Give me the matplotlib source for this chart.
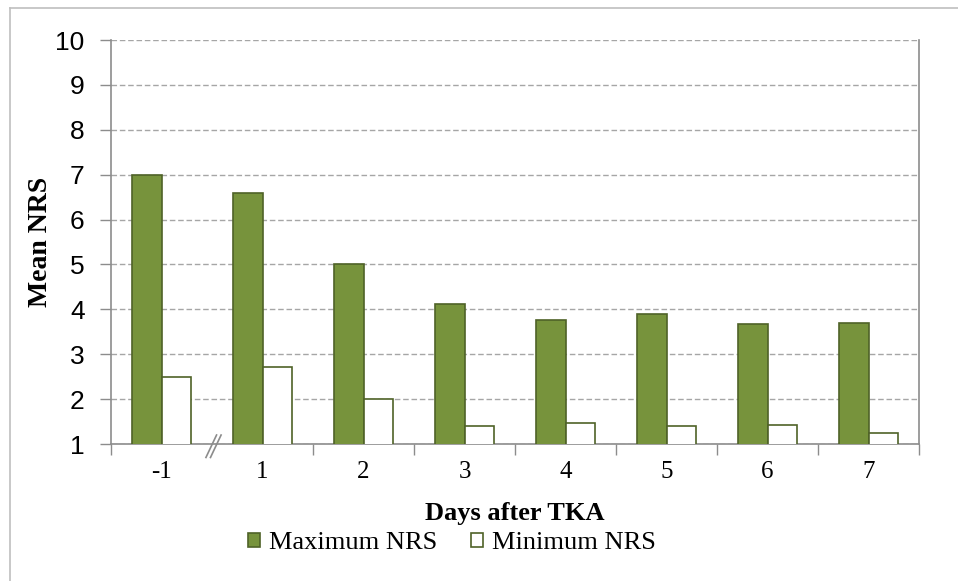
import numpy as np
import matplotlib
matplotlib.use("Agg")
import matplotlib.pyplot as plt
from matplotlib.lines import Line2D

# Mean pain scores per day after surgery
days = ["-1", "1", "2", "3", "4", "5", "6", "7"]
max_nrs = [7.0, 6.6, 5.0, 4.12, 3.76, 3.89, 3.68, 3.70]
min_nrs = [2.5, 2.72, 2.0, 1.40, 1.46, 1.40, 1.42, 1.25]
y_ticks = [1, 2, 3, 4, 5, 6, 7, 8, 9, 10]

green = "#77933C"
edge = "#4F6228"
grey = "#8C8C8C"

fig = plt.figure(figsize=(9.58, 5.81), dpi=100)
ax = fig.add_axes([111 / 958, 1 - 444 / 581, 808 / 958, 404 / 581])

x = np.arange(len(days))
w = 0.29
ax.bar(x - w / 2, max_nrs, width=w, bottom=0, color=green, edgecolor=edge,
       linewidth=1.2, label="Maximum NRS", zorder=3)
ax.bar(x + w / 2, min_nrs, width=w, bottom=0, color="white", edgecolor=edge,
       linewidth=1.2, label="Minimum NRS", zorder=3)

ax.set_xlim(-0.5, len(days) - 0.5)
ax.set_ylim(1, 10)
ax.set_yticks(y_ticks)
ax.set_yticklabels([str(t) for t in y_ticks], fontfamily="Liberation Sans", fontsize=19)
ax.yaxis.grid(True, linestyle=(0, (4, 2)), color="#A6A6A6", linewidth=1.0, zorder=0)

# category boundaries as ticks, skip the one at the axis break
ax.set_xticks(x)
ax.set_xticklabels(days, fontfamily="Liberation Serif", fontsize=18)
ax.tick_params(axis="x", which="major", length=0, pad=12)
bounds = [b for b in np.arange(-0.5, len(days)) if b != 0.5]
ax.set_xticks(bounds, minor=True)
ax.tick_params(axis="x", which="minor", length=8, color=grey, width=1)
ax.tick_params(axis="y", length=8, color=grey, width=1, pad=11)

for side in ["left", "right", "bottom"]:
    ax.spines[side].set_color(grey)
    ax.spines[side].set_linewidth(1.2)
ax.spines["top"].set_visible(False)

# break mark between day -1 and day 1
for dx in [0.0, 0.045]:
    ax.plot([0.44 + dx, 0.545 + dx], [0.70, 1.20], color=grey, linewidth=1.2,
            clip_on=False, zorder=4)

ax.set_xlabel("Days after TKA", fontfamily="Liberation Serif", fontweight="bold",
              fontsize=19, labelpad=14)
ax.set_ylabel("Mean NRS", fontfamily="Liberation Serif", fontweight="bold",
              fontsize=20, labelpad=2)

fig.legend(loc="center", bbox_to_anchor=(452 / 958, 1 - 543 / 581), ncol=2,
           frameon=False, prop={"family": "Liberation Serif", "size": 19},
           handlelength=0.45, handleheight=0.45, handletextpad=0.35, columnspacing=1.3)

# outer chart frame
fig.add_artist(Line2D([10 / 958, 10 / 958], [0, 1 - 8 / 581], color="#BFBFBF", linewidth=1.2))
fig.add_artist(Line2D([10 / 958, 1], [1 - 8 / 581, 1 - 8 / 581], color="#BFBFBF", linewidth=1.2))

fig.savefig("out.png", dpi=100)
